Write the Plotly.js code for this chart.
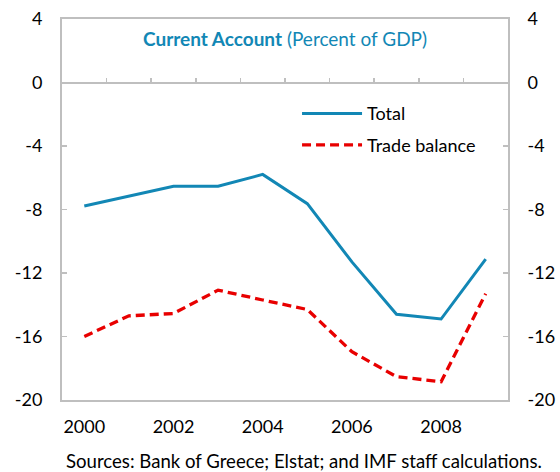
<!DOCTYPE html>
<html>
<head>
<meta charset="utf-8">
<script src="https://cdn.plot.ly/plotly-3.0.1.min.js"></script>
<style>html,body{margin:0;padding:0;background:#fff}#chart{width:560px;height:472px}</style>
</head>
<body>
<div id="chart"></div>
<script>
const years = [2000, 2001, 2002, 2003, 2004, 2005, 2006, 2007, 2008, 2009];
const totalCA = [-7.78, -7.17, -6.54, -6.54, -5.79, -7.63, -11.3, -14.6, -14.9, -11.13];
const tradeBalance = [-16.0, -14.7, -14.55, -13.08, -13.7, -14.3, -16.96, -18.53, -18.85, -13.3];
const xTickVals = [2000, 2002, 2004, 2006, 2008];
const xTickText = ['2000', '2002', '2004', '2006', '2008'];
const zeroLineTicks = [2000.5, 2001.5, 2002.5, 2003.5, 2004.5, 2005.5, 2006.5, 2007.5, 2008.5];
const yTickVals = [-20, -16, -12, -8, -4, 0, 4];
const yTickText = ['-20', '-16', '-12', '-8', '-4', '0', '4'];

const FONT = 'Lato, "Open Sans", "Liberation Sans", sans-serif';
const GRAY = '#bfbfbf';
const FS = 18;

const traces = [
  {x: years, y: totalCA, name: 'Total', type: 'scatter', mode: 'lines',
   line: {color: '#1287b5', width: 3}, legendgroup: 'a'},
  {x: years, y: tradeBalance, name: 'Trade balance', type: 'scatter', mode: 'lines',
   line: {color: '#e80000', width: 3.3, dash: '9px,5px'}, legendgroup: 'b'},
  {x: years, y: totalCA.map(() => null), xaxis: 'x2', yaxis: 'y2', showlegend: false,
   hoverinfo: 'skip', mode: 'lines'}
];

const layout = {
  width: 560, height: 472,
  margin: {l: 62, r: 52, t: 19, b: 72},
  paper_bgcolor: '#fff', plot_bgcolor: '#fff',
  font: {family: FONT, size: FS, color: '#000'},
  showlegend: true,
  legend: {x: 0.527, y: 0.80, xanchor: 'left', yanchor: 'top', itemwidth: 60,
           font: {family: FONT, size: FS, color: '#000'},
           bgcolor: 'rgba(0,0,0,0)', tracegroupgap: 5, traceorder: 'grouped'},
  title: {text: '<b>Current Account</b> (Percent of GDP)',
          font: {family: FONT, size: 19, color: '#1287b5'},
          x: 0.509, xanchor: 'center', y: 0.917, yanchor: 'middle',
          xref: 'container', yref: 'container'},
  xaxis: {range: [1999.5, 2009.5], tickvals: xTickVals, ticktext: xTickText, ticks: '',
          showline: true, linecolor: GRAY, linewidth: 2, mirror: true,
          showgrid: false, zeroline: false, ticklabelstandoff: 9,
          tickfont: {family: FONT, size: FS, color: '#000'}},
  xaxis2: {overlaying: 'x', anchor: 'free', position: 20/24, side: 'bottom',
           range: [1999.5, 2009.5], tickvals: zeroLineTicks, ticks: 'inside',
           ticklen: 4, tickcolor: GRAY, tickwidth: 1.5, showticklabels: false,
           showline: true, linecolor: GRAY, linewidth: 2, showgrid: false, zeroline: false},
  yaxis: {range: [-20, 4], tickvals: yTickVals, ticktext: yTickText, ticks: 'inside', ticklen: 5,
          tickcolor: GRAY, tickwidth: 1.5, showline: true, linecolor: GRAY, linewidth: 2,
          showgrid: false, zeroline: false, ticklabelstandoff: 14,
          tickfont: {family: FONT, size: FS, color: '#000'}},
  yaxis2: {overlaying: 'y', side: 'right', anchor: 'x', range: [-20, 4],
           tickvals: yTickVals, ticktext: yTickText,
           ticks: 'inside', ticklen: 5, tickcolor: GRAY, tickwidth: 1.5,
           showline: true, linecolor: GRAY, linewidth: 2, showgrid: false, zeroline: false,
           ticklabelstandoff: 14, tickfont: {family: FONT, size: FS, color: '#000'}},
  annotations: [{text: 'Sources: Bank of Greece; Elstat; and IMF staff calculations.',
                 xref: 'paper', yref: 'paper', x: 0.5426, y: -0.160,
                 xanchor: 'center', yanchor: 'middle', showarrow: false,
                 font: {family: FONT, size: 18.6, color: '#000'}}]
};

Plotly.newPlot('chart', traces, layout, {displayModeBar: false, staticPlot: true});
</script>
</body>
</html>
